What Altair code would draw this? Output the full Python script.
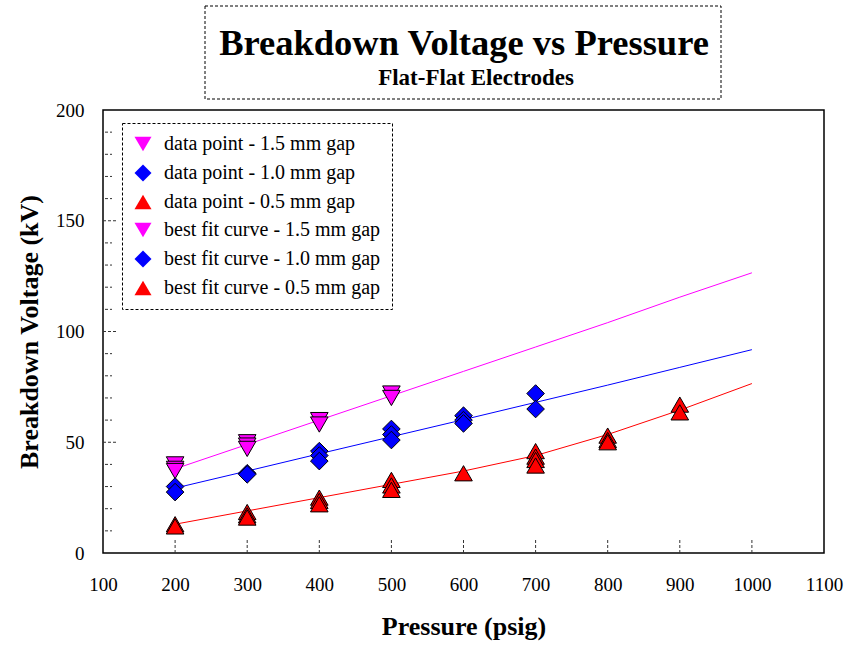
import altair as alt
import pandas as pd

FONT = "Liberation Serif"

# ---- data ----
labels = [
    "data point - 1.5 mm gap",
    "data point - 1.0 mm gap",
    "data point - 0.5 mm gap",
    "best fit curve - 1.5 mm gap",
    "best fit curve - 1.0 mm gap",
    "best fit curve - 0.5 mm gap",
]
colors = ["#FF00FF", "#0000FF", "#FF0000", "#FF00FF", "#0000FF", "#FF0000"]
shapes = ["triangle-down", "diamond", "triangle-up", "triangle-down", "diamond", "triangle-up"]

p15 = [200, 200, 200, 300, 300, 300, 400, 400, 500, 500]
v15 = [40, 38, 37, 50, 48.5, 47, 60, 58, 72, 70]

p10 = [200, 200, 300, 300, 400, 400, 400, 500, 500, 500, 600, 600, 600, 700, 700]
v10 = [30, 27.5, 36, 35.5, 46, 44, 41.5, 56, 53.5, 51, 62, 60, 58.5, 72, 65]

p05 = [200, 200, 300, 300, 300, 400, 400, 400, 500, 500, 500, 600, 700, 700, 700, 700,
       800, 800, 800, 900, 900]
v05 = [13, 12, 18.5, 17, 16, 25, 23.5, 22, 33, 30.5, 28.5, 36, 46, 43.5, 42, 39.5,
       53, 51, 50, 67, 63.5]

fit_p = [200, 300, 400, 500, 600, 700, 800, 900, 1000]
fit15 = [38, 49, 60, 71, 82, 93, 104, 115.5, 126.5]
fit10 = [29.3, 37, 44.8, 52.5, 60.2, 68, 75.8, 83.8, 91.8]
fit05 = [13, 19, 25, 31, 37, 44, 53.5, 64.5, 76.5]

x_labels = [100, 200, 300, 400, 500, 600, 700, 800, 900, 1000, 1100]
y_labels = [0, 50, 100, 150, 200]
x_ticks = [200, 300, 400, 500, 600, 700, 800, 900, 1000]
y_major = [50, 100, 150]
y_minor = [10, 20, 30, 40, 60, 70, 80, 90, 110, 120, 130, 140, 160, 170, 180, 190]

title_text = "Breakdown Voltage vs Pressure"
subtitle_text = "Flat-Flat Electrodes"

# ---- tables ----
pts = pd.concat([
    pd.DataFrame({"p": p15, "v": v15, "label": labels[0]}),
    pd.DataFrame({"p": p10, "v": v10, "label": labels[1]}),
    pd.DataFrame({"p": p05, "v": v05, "label": labels[2]}),
])
fits = pd.concat([
    pd.DataFrame({"p": fit_p, "v": fit15, "curve": labels[3]}),
    pd.DataFrame({"p": fit_p, "v": fit10, "curve": labels[4]}),
    pd.DataFrame({"p": fit_p, "v": fit05, "curve": labels[5]}),
])

W, H = 721, 443

xscale = alt.Scale(domain=[100, 1100], nice=False, zero=False)
yscale = alt.Scale(domain=[0, 200], nice=False)

xaxis = alt.Axis(values=x_labels, format="d", ticks=False, domain=False, grid=False,
                 labelFont=FONT, labelFontSize=19, labelColor="black", labelPadding=22,
                 labelFlush=False,
                 title="Pressure (psig)", titleFont=FONT, titleFontSize=26,
                 titleFontWeight="bold", titleColor="black", titlePadding=19)
yaxis = alt.Axis(values=y_labels, format="d", ticks=False, domain=False, grid=False,
                 labelFont=FONT, labelFontSize=19, labelColor="black", labelPadding=19,
                 labelFlush=False,
                 title="Breakdown Voltage (kV)", titleFont=FONT, titleFontSize=26,
                 titleFontWeight="bold", titleColor="black", titlePadding=13)

lines = alt.Chart(fits).mark_line(strokeWidth=1, clip=True).encode(
    x=alt.X("p:Q", scale=xscale, axis=xaxis),
    y=alt.Y("v:Q", scale=yscale, axis=yaxis),
    stroke=alt.Stroke("curve:N", scale=alt.Scale(domain=labels[3:], range=colors[3:]), legend=None),
    detail="curve:N",
)

leg = alt.Legend(title=None, orient="none", legendX=19, legendY=13)

points = alt.Chart(pts).mark_point(filled=True, size=310, stroke="black", strokeWidth=1,
                                   opacity=1, fillOpacity=1).encode(
    x=alt.X("p:Q", scale=xscale),
    y=alt.Y("v:Q", scale=yscale),
    fill=alt.Fill("label:N", scale=alt.Scale(domain=labels, range=colors), legend=leg),
    shape=alt.Shape("label:N", scale=alt.Scale(domain=labels, range=shapes), legend=leg),
)

xt = alt.Chart(pd.DataFrame({"t": x_ticks})).mark_rule(
    color="#333", strokeWidth=1, strokeDash=[3, 2]).encode(
    x=alt.X("t:Q", scale=xscale), y=alt.value(H), y2=alt.value(H - 13))

ytM = alt.Chart(pd.DataFrame({"t": y_major})).mark_rule(
    color="#333", strokeWidth=1, strokeDash=[3, 2]).encode(
    y=alt.Y("t:Q", scale=yscale), x=alt.value(0), x2=alt.value(14))

ytm = alt.Chart(pd.DataFrame({"t": y_minor})).mark_rule(
    color="#333", strokeWidth=1, strokeDash=[3, 2]).encode(
    y=alt.Y("t:Q", scale=yscale), x=alt.value(2), x2=alt.value(9))

one = pd.DataFrame({"a": [0]})
tbox = alt.Chart(one).mark_rect(fill="white", stroke="black", strokeWidth=1,
                                strokeDash=[3, 2]).encode(
    x=alt.value(102), x2=alt.value(618), y=alt.value(-104), y2=alt.value(-11))
ttext = alt.Chart(one).mark_text(font=FONT, fontSize=36.5, fontWeight="bold", color="black",
                                 baseline="alphabetic", align="center").encode(
    x=alt.value(361), y=alt.value(-55), text=alt.value(title_text))
stext = alt.Chart(one).mark_text(font=FONT, fontSize=23, fontWeight="bold", color="black",
                                 baseline="alphabetic", align="center").encode(
    x=alt.value(373), y=alt.value(-25), text=alt.value(subtitle_text))

chart = alt.layer(tbox, ttext, stext, xt, ytM, ytm, lines, points).properties(
    width=W, height=H,
    autosize=alt.AutoSizeParams(type="none"),
    padding={"left": 103, "top": 110, "right": 28, "bottom": 93},
    background="white",
).configure_view(
    stroke="black", strokeWidth=1.5
).configure_legend(
    padding=11,
    strokeColor="black", strokeDash=[3, 2], strokeWidth=1, fillColor="white",
    labelFont=FONT, labelFontSize=20, labelColor="black", labelOffset=11,
    labelLimit=400,
    symbolSize=290, symbolStrokeColor="black", symbolStrokeWidth=1,
    symbolOpacity=1, rowPadding=8, titlePadding=0,
)

chart.save("out.html", embed_options={"renderer": "svg", "actions": False})
